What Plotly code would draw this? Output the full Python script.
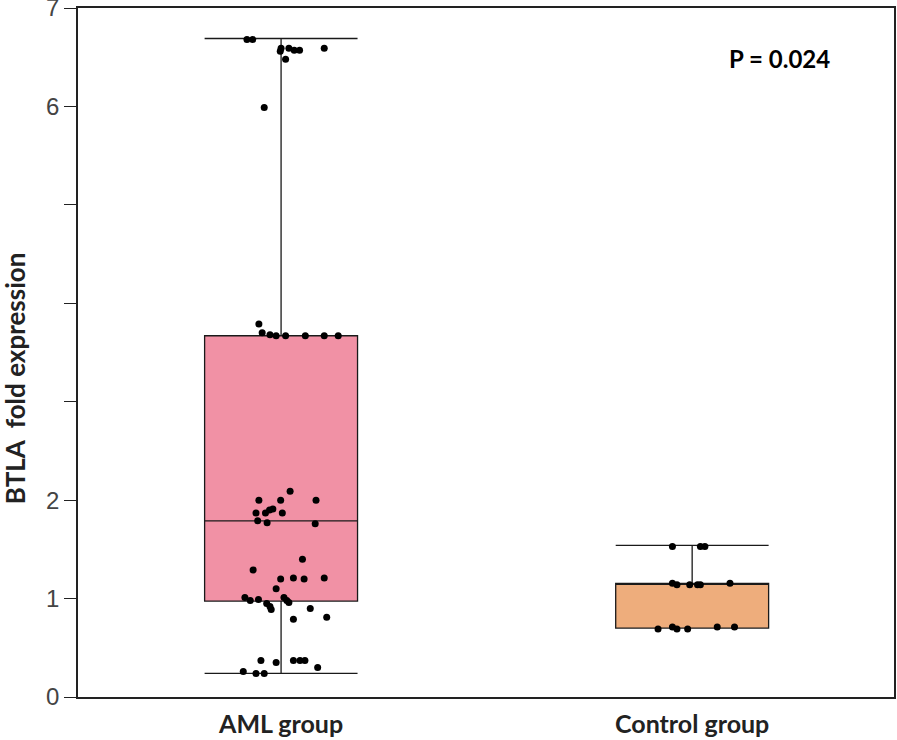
import plotly.graph_objects as go

groups = ["AML group", "Control group"]

# Box statistics
q1 = [0.975, 0.70]
median = [1.79, 1.155]
q3 = [3.67, 1.155]
lowerfence = [0.24, 0.70]
upperfence = [6.69, 1.54]

# AML individual points: value and horizontal jitter (category units)
aml_vals = [6.68, 6.68, 6.56, 6.59, 6.59, 6.57, 6.57, 6.48, 6.59, 5.99,
            3.79, 3.70, 3.68, 3.67, 3.67, 3.67, 3.67, 3.67,
            2.09, 2.00, 2.00, 2.00, 1.87, 1.87, 1.90, 1.91, 1.87, 1.79, 1.77, 1.76,
            1.40, 1.29, 1.20, 1.21, 1.20, 1.21, 1.10,
            1.01, 0.98, 0.99, 0.95, 0.92, 0.89, 1.01, 0.98, 0.96, 0.90, 0.79, 0.81,
            0.37, 0.35, 0.37, 0.37, 0.37, 0.30, 0.26, 0.24, 0.24]
aml_jit = [-0.083, -0.069, -0.002, 0.0, 0.019, 0.032, 0.045, 0.011, 0.105, -0.041,
           -0.054, -0.046, -0.027, -0.012, 0.011, 0.059, 0.105, 0.139,
           0.022, -0.054, -0.001, 0.085, -0.061, -0.038, -0.028, -0.020, 0.003, -0.057, -0.034, 0.083,
           0.052, -0.068, -0.001, 0.030, 0.056, 0.105, -0.012,
           -0.088, -0.075, -0.055, -0.035, -0.027, -0.024, 0.007, 0.014, 0.019, 0.071, 0.030, 0.111,
           -0.049, -0.012, 0.030, 0.046, 0.058, 0.089, -0.092, -0.061, -0.041]

ctrl_vals = [1.53, 1.53, 1.53, 1.155, 1.14, 1.14, 1.14, 1.14, 1.155,
             0.69, 0.71, 0.69, 0.69, 0.71, 0.71]
ctrl_jit = [-0.048, 0.020, 0.031, -0.048, -0.037, -0.006, 0.013, 0.020, 0.092,
            -0.083, -0.048, -0.037, -0.011, 0.061, 0.103]

y_tickvals = [0, 1, 2, 3, 4, 5, 6, 7]
y_ticktext = ["0", "1", "2", "", "", "", "6", "7"]

fills = ["#F191A5", "#EEAD7C"]

fig = go.Figure()
for i in range(2):
    fig.add_trace(go.Box(
        x=[i], q1=[q1[i]], median=[median[i]], q3=[q3[i]],
        lowerfence=[lowerfence[i]], upperfence=[upperfence[i]],
        width=0.372, whiskerwidth=1, fillcolor=fills[i],
        line=dict(color="#1a1a1a", width=1.3), boxpoints=False,
        showlegend=False, hoverinfo="skip"))

fig.add_trace(go.Scatter(
    x=[0 + j for j in aml_jit], y=aml_vals, mode="markers",
    marker=dict(color="black", size=7), showlegend=False))
fig.add_trace(go.Scatter(
    x=[1 + j for j in ctrl_jit], y=ctrl_vals, mode="markers",
    marker=dict(color="black", size=7), showlegend=False))

fig.add_annotation(x=0.86, y=0.927, xref="paper", yref="paper",
                   text="<b>P = 0.024</b>", showarrow=False,
                   xanchor="center", yanchor="middle",
                   font=dict(family="Lato", size=24, color="black"))

# y-axis title placed as rotated annotation (reference is off-centre)
fig.add_annotation(x=-0.077, y=0.463, xref="paper", yref="paper",
                   text="<b>BTLA  fold expression</b>", textangle=-90,
                   showarrow=False, xanchor="center", yanchor="middle",
                   font=dict(family="Lato", size=26, color="#222"))

fig.update_layout(
    width=897, height=740,
    margin=dict(l=78, r=3, t=8, b=43),
    paper_bgcolor="white", plot_bgcolor="white",
    xaxis=dict(range=[-0.494, 1.491], tickvals=[0, 1],
               ticktext=["<b>%s</b>" % g for g in groups],
               ticks="", showgrid=False, zeroline=False, automargin=False,
               showline=True, mirror=True, linecolor="#222", linewidth=1.5,
               tickfont=dict(family="Lato", size=25, color="#222"),
               ticklabelstandoff=4),
    yaxis=dict(range=[0, 7], tickvals=y_tickvals, ticktext=y_ticktext,
               ticks="outside", ticklen=12, tickcolor="#222", automargin=False,
               ticklabeloverflow="allow",
               showgrid=False, zeroline=False,
               showline=True, mirror=True, linecolor="#222", linewidth=1.5,
               tickfont=dict(family="Liberation Sans", size=24, color="#444")),
)

fig.write_html("out.html", config={"displayModeBar": False},
               post_script="document.body.style.margin='0';")
